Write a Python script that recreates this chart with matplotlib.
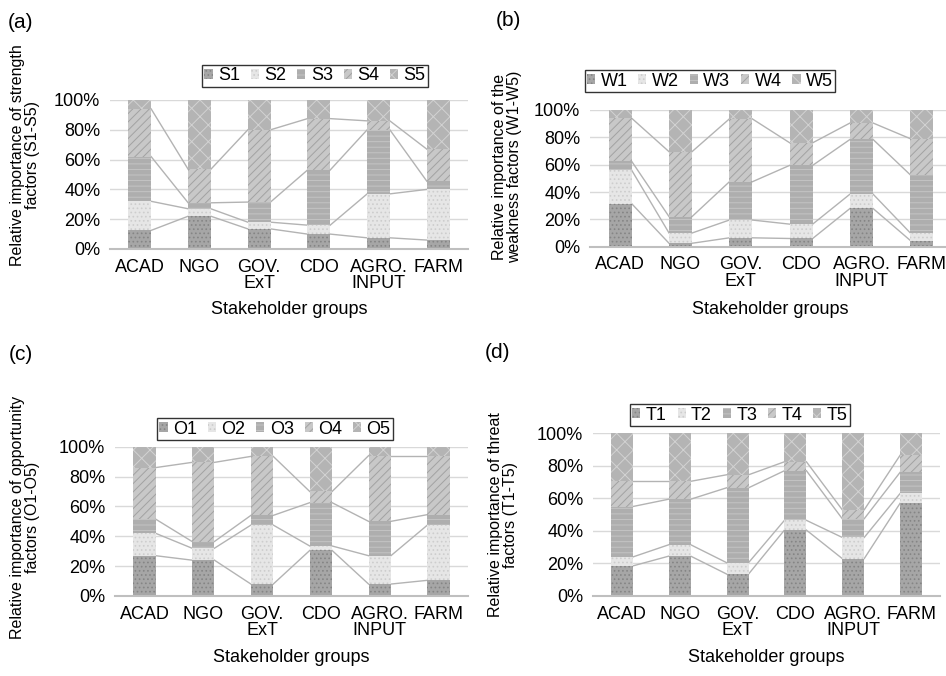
import matplotlib
matplotlib.use("Agg")
import matplotlib.pyplot as plt
from matplotlib.patches import Patch
import numpy as np

plt.rcParams['font.family'] = ['Liberation Sans', 'DejaVu Sans']
plt.rcParams['hatch.linewidth'] = 0.7

groups = ["ACAD", "NGO", "GOV.\nExT", "CDO", "AGRO.\nINPUT", "FARM"]

# segment values (%) per factor, for ACAD, NGO, GOV, CDO, AGRO, FARM
S1 = [12.5, 22.0, 13.5, 10.0, 7.5, 6.0]
S2 = [19.5, 5.0, 4.5, 6.0, 29.5, 34.0]
S3 = [30.0, 4.0, 13.5, 37.0, 43.0, 5.5]
S4 = [32.0, 22.5, 48.5, 34.5, 6.0, 21.5]
S5 = [6.0, 46.5, 20.0, 12.5, 14.0, 33.0]

W1 = [31.5, 2.5, 6.5, 6.0, 28.0, 4.5]
W2 = [24.5, 7.5, 13.0, 10.5, 10.5, 5.5]
W3 = [6.5, 12.0, 28.0, 43.0, 40.0, 42.5]
W4 = [31.5, 47.5, 46.0, 16.5, 12.0, 26.5]
W5 = [6.0, 30.5, 6.5, 24.0, 9.5, 21.0]

O1 = [27.0, 24.0, 8.0, 30.5, 8.0, 10.5]
O2 = [15.0, 8.0, 39.5, 3.0, 19.0, 37.0]
O3 = [9.5, 4.5, 6.5, 29.0, 23.0, 7.0]
O4 = [34.5, 53.0, 39.5, 7.5, 44.0, 39.5]
O5 = [14.0, 10.5, 6.5, 30.0, 6.0, 6.0]

T1 = [18.5, 24.5, 13.5, 40.5, 23.0, 57.0]
T2 = [5.5, 7.0, 7.0, 6.0, 13.0, 6.0]
T3 = [31.0, 28.0, 46.0, 30.5, 11.5, 13.0]
T4 = [15.5, 11.0, 8.0, 5.5, 5.5, 10.5]
T5 = [29.5, 29.5, 25.5, 17.5, 47.0, 13.5]

panels = [
    ("(a)", ["S1", "S2", "S3", "S4", "S5"], [S1, S2, S3, S4, S5],
     "Relative importance of strength\nfactors (S1-S5)"),
    ("(b)", ["W1", "W2", "W3", "W4", "W5"], [W1, W2, W3, W4, W5],
     "Relative importance of the\nweakness factors (W1-W5)"),
    ("(c)", ["O1", "O2", "O3", "O4", "O5"], [O1, O2, O3, O4, O5],
     "Relative importance of opportunity\nfactors (O1-O5)"),
    ("(d)", ["T1", "T2", "T3", "T4", "T5"], [T1, T2, T3, T4, T5],
     "Relative importance of threat\nfactors (T1-T5)"),
]

# styles per stacked level: facecolor, hatch, hatch colour
styles = [
    ("#a6a6a6", "....", "#858585"),
    ("#e6e6e6", "....", "#cdcdcd"),
    ("#aeaeae", "---", "#c4c4c4"),
    ("#c8c8c8", "////", "#a2a2a2"),
    ("#b4b4b4", "xx", "#d2d2d2"),
]

Wpx, Hpx = 946, 676
fig = plt.figure(figsize=(Wpx / 100, Hpx / 100), dpi=100)

def rect(l, r, t, b):
    return [l / Wpx, 1 - b / Hpx, (r - l) / Wpx, (b - t) / Hpx]

layout = [
    dict(r=rect(110, 468, 100, 249), xr=5.5, leg=(315, 76), yl=(25, 155), pl=(20, 23), xl=(289, 310)),
    dict(r=rect(590, 946, 110, 246.7), xr=5.4, leg=(710, 81), yl=(507, 167), pl=(508, 20), xl=(770, 310)),
    dict(r=rect(115, 468, 446.7, 596), xr=5.5, leg=(275, 429), yl=(25, 517), pl=(21, 355), xl=(291, 658)),
    dict(r=rect(593, 940, 433.3, 596), xr=5.5, leg=(740, 415), yl=(503, 515), pl=(497, 353), xl=(766, 658)),
]

fs = 13
fs_yl = 11.5
bw = 0.38
x = np.arange(len(groups))

for (letter, names, series, ylab), lay in zip(panels, layout):
    ax = fig.add_axes(lay["r"])
    bottom = np.zeros(len(groups))
    for k, vals in enumerate(series):
        v = np.array(vals) / 100.0
        fc, h, hc = styles[k]
        ax.bar(x, v, bw, bottom=bottom, color=fc, hatch=h, edgecolor=hc,
               linewidth=0, zorder=3)
        bottom = bottom + v
        if k < len(series) - 1:
            for i in range(len(groups) - 1):
                ax.plot([x[i] + bw / 2, x[i + 1] - bw / 2], [bottom[i], bottom[i + 1]],
                        color="#b3b3b3", lw=1.0, zorder=2)
    ax.set_xlim(-0.5, lay["xr"])
    ax.set_ylim(0, 1.0)
    ax.set_yticks(np.linspace(0, 1, 6))
    ax.set_yticklabels([f"{int(t)}%" for t in np.linspace(0, 100, 6)], fontsize=fs)
    ax.set_xticks(x)
    ax.set_xticklabels(groups, fontsize=fs, linespacing=0.95)
    ax.tick_params(axis="both", length=0)
    ax.tick_params(axis="y", pad=7)
    ax.tick_params(axis="x", pad=7)
    ax.grid(axis="y", color="#d9d9d9", lw=1.0, zorder=0)
    ax.set_axisbelow(True)
    for s in ["top", "right", "left"]:
        ax.spines[s].set_visible(False)
    ax.spines["bottom"].set_color("#bfbfbf")
    ax.spines["bottom"].set_linewidth(1.5)
    ax.spines["bottom"].set_zorder(4)

    handles = [Patch(facecolor=styles[k][0], hatch=styles[k][1], edgecolor=styles[k][2],
                     linewidth=0, label=names[k]) for k in range(5)]
    lx, ly = lay["leg"]
    leg = ax.legend(handles=handles, ncol=5, loc="center",
                    bbox_to_anchor=(lx / Wpx, 1 - ly / Hpx), bbox_transform=fig.transFigure,
                    fontsize=fs, frameon=True, fancybox=False, edgecolor="black",
                    handlelength=0.45, handleheight=0.45, handletextpad=0.3,
                    columnspacing=0.6, borderpad=0.12, borderaxespad=0)
    leg.get_frame().set_linewidth(1.0)

    yx, yy = lay["yl"]
    fig.text(yx / Wpx, 1 - yy / Hpx, ylab, rotation=90, ha="center", va="center",
             multialignment="center", fontsize=fs_yl, linespacing=1.05)
    px, py = lay["pl"]
    fig.text(px / Wpx, 1 - py / Hpx, letter, ha="center", va="center", fontsize=15)
    xx, xy = lay["xl"]
    fig.text(xx / Wpx, 1 - xy / Hpx, "Stakeholder groups", ha="center", va="center", fontsize=fs)

fig.savefig("out.png", dpi=100, facecolor="white")
